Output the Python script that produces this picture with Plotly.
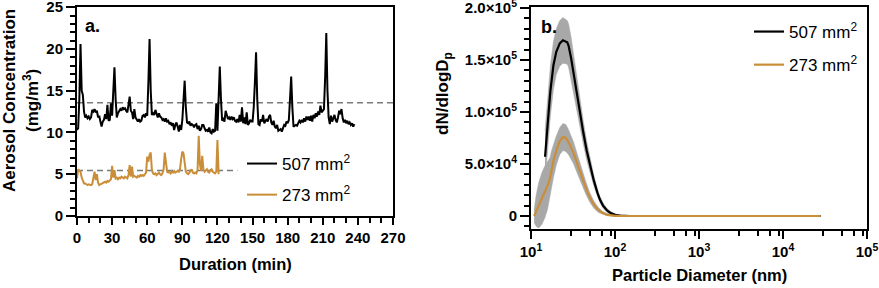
import plotly.graph_objects as go

# ---------------- Panel a data ----------------
black_t = list(range(0, 238))
black_v = [10.3, 10.5, 14.0, 20.6, 15.0, 14.5, 12.5, 11.8, 12.0, 11.7,
           11.9, 11.6, 11.8, 12.7, 12.5, 12.8, 12.4, 12.6, 11.8, 12.0,
           11.3, 10.7, 11.3, 11.5, 12.2, 11.6, 13.3, 11.4, 11.5, 13.5,
           12.0, 15.5, 17.8, 14.0, 11.8, 12.3, 12.6, 12.8, 12.6, 13.0,
           12.8, 12.9, 12.6, 12.4, 13.3, 14.3, 12.6, 12.4, 11.6, 12.8,
           11.8, 11.5, 11.3, 11.6, 11.3, 11.4, 12.0, 12.1, 11.8, 12.3,
           12.0, 16.0, 21.2, 15.0, 12.1, 12.3, 12.1, 12.7, 12.3, 11.8,
           12.3, 11.9, 11.8, 11.5, 11.6, 11.3, 11.7, 11.3, 11.4, 11.0,
           11.2, 10.8, 11.1, 10.3, 10.9, 11.2, 10.7, 10.1, 10.9, 10.3,
           11.5, 13.5, 16.2, 13.0, 11.2, 11.1, 11.3, 10.8, 11.0, 10.9,
           10.6, 10.9, 11.0, 10.4, 10.8, 10.2, 10.4, 10.9, 10.9, 10.5,
           10.2, 10.3, 10.1, 10.6, 10.0, 9.9, 10.4, 10.1, 10.2, 13.5,
           10.2, 14.0, 17.9, 14.0, 11.4, 11.6, 11.3, 12.6, 12.1, 11.6,
           11.8, 11.5, 11.9, 11.6, 11.8, 11.4, 11.3, 11.6, 11.2, 12.1,
           11.3, 13.0, 11.1, 11.8, 11.0, 12.4, 10.9, 11.1, 11.5, 11.3,
           11.3, 13.0, 16.0, 19.6, 14.0, 11.0, 10.9, 11.6, 11.3, 12.1,
           11.1, 11.4, 11.6, 11.3, 11.9, 12.1, 11.2, 10.9, 11.4, 10.7,
           10.5, 10.9, 10.2, 10.3, 10.4, 10.1, 10.6, 10.9, 10.8, 11.3,
           11.1, 11.5, 14.0, 16.7, 13.0, 10.7, 10.8, 10.9, 10.8, 11.1,
           11.4, 11.2, 11.5, 11.2, 11.7, 11.3, 11.9, 11.5, 11.9, 11.4,
           12.0, 11.3, 12.1, 11.7, 12.3, 11.9, 12.5, 12.1, 13.2, 12.4,
           12.6, 12.8, 16.5, 21.9, 15.0, 11.8, 11.0, 12.0, 11.3, 11.7,
           12.1, 11.5, 11.2, 11.8, 12.6, 12.2, 12.8, 11.7, 11.2, 11.5,
           11.1, 11.4, 11.0, 11.2, 10.9, 11.1, 10.7, 11.0]

orange_t = list(range(0, 122))
orange_v = [4.5, 5.6, 5.4, 5.3, 4.6, 4.1, 3.9, 3.9, 3.8, 3.7,
            3.8, 3.7, 3.7, 3.8, 4.5, 5.3, 4.3, 5.0, 4.0, 3.7,
            3.8, 3.9, 3.9, 4.0, 4.1, 4.0, 4.2, 4.1, 4.3, 4.4,
            6.0, 4.6, 5.5, 4.5, 4.6, 4.4, 4.6, 4.5, 4.7, 4.6,
            4.5, 4.7, 4.6, 4.5, 4.9, 6.1, 4.7, 5.9, 4.7, 4.8,
            4.7, 4.6, 4.8, 4.7, 4.9, 4.8, 4.9, 4.8, 5.0, 5.2,
            7.1, 6.5, 7.3, 7.6, 5.5, 5.1, 5.0, 5.1, 4.9, 5.0,
            5.2, 5.0, 4.9, 5.1, 5.6, 7.6, 6.5, 5.3, 5.2, 5.3,
            5.1, 5.3, 5.2, 5.4, 5.2, 5.3, 5.4, 5.3, 5.6, 6.8,
            7.7, 7.5, 6.2, 5.3, 5.1, 5.0, 5.2, 5.4, 5.6, 5.2,
            5.1, 5.2, 5.1, 5.5, 9.6, 6.2, 5.4, 7.2, 5.6, 5.3,
            5.4, 5.6, 5.3, 5.2, 5.5, 5.6, 5.3, 5.2, 5.1, 5.3,
            9.1, 5.0]

ref_black_x = [0, 270]
ref_black_y = [13.55, 13.55]
ref_orange_x = [0, 137]
ref_orange_y = [5.45, 5.45]

x_ticks_a = [0, 30, 60, 90, 120, 150, 180, 210, 240, 270]
y_ticks_a = [0, 5, 10, 15, 20, 25]

# ---------------- Panel b data ----------------
black_d = [14.7, 16, 17, 18.5, 20, 22, 24, 27, 28, 30, 32, 35, 38, 42, 46, 50,
           56, 62, 66, 72, 80, 90, 100, 115, 130, 150, 200, 300, 400, 500,
           600, 800, 1000, 2000, 5000, 10000, 20000, 28000]
black_n = [5.7e4, 9.5e4, 1.2e5, 1.45e5, 1.58e5, 1.66e5, 1.69e5, 1.67e5, 1.64e5,
           1.52e5, 1.38e5, 1.18e5, 1.0e5, 8.0e4, 6.3e4, 5.0e4, 3.4e4, 2.2e4,
           1.6e4, 1.0e4, 5.5e3, 2.5e3, 1.2e3, 400, 100, 0, 0, 0, 0, 0,
           0, 0, 0, 0, 0, 0, 0, 0]
black_err = [2.5e4, 2.5e4, 2.4e4, 2.3e4, 2.2e4, 2.2e4, 2.2e4, 2.1e4, 2.1e4,
             2.0e4, 1.8e4, 1.5e4, 1.3e4, 1.1e4, 9e3, 7e3, 5e3, 3.5e3,
             3e3, 2.5e3, 2e3, 1.5e3, 1e3, 500, 300, 200, 100, 100, 300, 300,
             300, 100, 100, 100, 100, 100, 100, 100]

orange_d = [10.9, 11.5, 12.4, 13.5, 14.6, 15.7, 16.8, 17.6, 18.5, 20, 22, 24,
            26, 28, 32, 36, 40, 45, 50, 56, 63, 70, 80, 90, 100, 120, 150,
            200, 300, 400, 500, 600, 800, 1000, 2000, 5000, 10000, 20000, 28000]
orange_n = [0, 5e3, 1.05e4, 1.7e4, 2.3e4, 2.9e4, 3.6e4, 4.5e4, 5.3e4, 6.3e4,
            7.2e4, 7.6e4, 7.5e4, 7.1e4, 6.1e4, 4.9e4, 3.8e4, 2.7e4, 1.8e4,
            1.1e4, 6e3, 3.2e3, 1.3e3, 500, 200, 50, 0,
            0, 0, 0, 0, 0, 0, 0, 0, 0, 0, 0, 0]
orange_err = [6e3, 1.5e4, 2.2e4, 2.5e4, 2.5e4, 2.3e4, 2.0e4, 1.8e4, 1.6e4,
              1.4e4, 1.3e4, 1.3e4, 1.3e4, 1.2e4, 1.05e4, 9e3, 7.5e3, 6e3,
              4.5e3, 3.5e3, 2.5e3, 1.5e3, 1e3, 600, 400, 200, 100,
              100, 100, 400, 500, 300, 100, 100, 100, 100, 100, 100, 100]

x_ticks_b = [10, 100, 1000, 10000, 100000]
x_ticktext_b = ["10<sup>1</sup>", "10<sup>2</sup>", "10<sup>3</sup>",
                "10<sup>4</sup>", "10<sup>5</sup>"]
x_minor_b = [m * 10 ** k for k in range(1, 5) for m in (3, 5, 7, 9)]
y_ticks_b = [0, 5e4, 1e5, 1.5e5, 2e5]
y_ticktext_b = ["0", "5.0×10<sup>4</sup>", "1.0×10<sup>5</sup>",
                "1.5×10<sup>5</sup>", "2.0×10<sup>5</sup>"]

series_names = ["507 mm<sup>2</sup>", "273 mm<sup>2</sup>"]

BLACK = "#000000"
ORANGE = "#CB8E38"
BAND = "rgb(168,168,168)"
DASH = "#7a7a7a"
FONT = "Liberation Sans"

W, H = 879, 288


def px(x):
    return x / W


def py(y):
    return 1 - y / H


def bold(labels):
    return ["<b>%s</b>" % s for s in labels]


fig = go.Figure()

# Panel a
fig.add_trace(go.Scatter(x=ref_black_x, y=ref_black_y, mode="lines",
                         line=dict(color=DASH, width=1.6, dash="6px,4px"),
                         showlegend=False, xaxis="x", yaxis="y", hoverinfo="skip"))
fig.add_trace(go.Scatter(x=ref_orange_x, y=ref_orange_y, mode="lines",
                         line=dict(color=DASH, width=1.6, dash="6px,4px"),
                         showlegend=False, xaxis="x", yaxis="y", hoverinfo="skip"))
fig.add_trace(go.Scatter(x=black_t, y=black_v, mode="lines", name=series_names[0],
                         line=dict(color=BLACK, width=2), legend="legend",
                         legendgroup="a1", xaxis="x", yaxis="y"))
fig.add_trace(go.Scatter(x=orange_t, y=orange_v, mode="lines", name=series_names[1],
                         line=dict(color=ORANGE, width=2), legend="legend",
                         legendgroup="a2", xaxis="x", yaxis="y"))

# Panel b bands
for d, n, e in [(black_d, black_n, black_err), (orange_d, orange_n, orange_err)]:
    upper = [a + b for a, b in zip(n, e)]
    lower = [a - b for a, b in zip(n, e)]
    fig.add_trace(go.Scatter(x=d + d[::-1], y=upper + lower[::-1], mode="lines",
                             fill="toself", fillcolor=BAND,
                             line=dict(color=BAND, width=0.5),
                             showlegend=False, xaxis="x2", yaxis="y2", hoverinfo="skip"))
fig.add_trace(go.Scatter(x=black_d, y=black_n, mode="lines", name=series_names[0],
                         line=dict(color=BLACK, width=2.2), legend="legend2",
                         legendgroup="b1", xaxis="x2", yaxis="y2"))
fig.add_trace(go.Scatter(x=orange_d, y=orange_n, mode="lines", name=series_names[1],
                         line=dict(color=ORANGE, width=2.2), legend="legend2",
                         legendgroup="b2", xaxis="x2", yaxis="y2"))

tickfont = dict(family=FONT, size=15, color="black")
common = dict(showline=True, linewidth=2, linecolor="black", mirror=True,
              ticks="outside", tickwidth=2, tickcolor="black", showgrid=False,
              zeroline=False, tickfont=tickfont, ticklabeloverflow="allow",
              automargin=False)

fig.update_layout(
    template="none",
    width=W, height=H,
    margin=dict(l=0, r=0, t=0, b=0, autoexpand=False),
    paper_bgcolor="white", plot_bgcolor="white",
    font=dict(family=FONT, color="black"),
    xaxis=dict(domain=[px(77), px(393)], range=[0, 270], tickvals=x_ticks_a,
               ticktext=bold([str(v) for v in x_ticks_a]),
               ticklen=7, anchor="y",
               minor=dict(dtick=10, tick0=0, ticklen=5, tickwidth=2,
                          ticks="outside", tickcolor="black"), **common),
    yaxis=dict(domain=[py(216), py(7)], range=[0, 25.02], tickvals=y_ticks_a,
               ticktext=bold([str(v) for v in y_ticks_a]),
               ticklen=9, anchor="x",
               minor=dict(dtick=1, tick0=0, ticklen=5, tickwidth=2,
                          ticks="outside", tickcolor="black"), **common),
    xaxis2=dict(domain=[px(531), px(867)], type="log", range=[1, 5],
                tickvals=x_ticks_b, ticktext=bold(x_ticktext_b), ticklen=8,
                anchor="y2",
                minor=dict(tickvals=x_minor_b, ticklen=5, tickwidth=2,
                           ticks="outside", tickcolor="black"), **common),
    yaxis2=dict(domain=[py(229), py(7)], range=[-12500, 201000],
                tickvals=y_ticks_b, ticktext=bold(y_ticktext_b), ticklen=9,
                anchor="x2",
                minor=dict(dtick=1e4, tick0=0, ticklen=5, tickwidth=2,
                           ticks="outside", tickcolor="black"), **common),
    legend=dict(x=px(242), y=py(146), xanchor="left", yanchor="top",
                bgcolor="rgba(0,0,0,0)", font=dict(family=FONT, size=17),
                tracegroupgap=6, itemwidth=30),
    legend2=dict(x=px(749), y=py(14), xanchor="left", yanchor="top",
                 bgcolor="rgba(0,0,0,0)", font=dict(family=FONT, size=17),
                 tracegroupgap=8, itemwidth=30),
    showlegend=True,
    annotations=[
        dict(text="<b>a.</b>", x=px(83), y=py(26), xref="paper", yref="paper",
             xanchor="left", yanchor="middle", showarrow=False,
             font=dict(family=FONT, size=18)),
        dict(text="<b>b.</b>", x=px(539), y=py(27), xref="paper", yref="paper",
             xanchor="left", yanchor="middle", showarrow=False,
             font=dict(family=FONT, size=18)),
        dict(text="<b>Duration (min)</b>", x=px(235), y=py(264), xref="paper",
             yref="paper", xanchor="center", yanchor="middle", showarrow=False,
             font=dict(family=FONT, size=16.5)),
        dict(text="<b>Particle Diameter (nm)</b>", x=px(699), y=py(275), xref="paper",
             yref="paper", xanchor="center", yanchor="middle", showarrow=False,
             font=dict(family=FONT, size=16.5)),
        dict(text="<b>Aerosol Concentration</b>", x=px(9), y=py(101), xref="paper",
             yref="paper", xanchor="center", yanchor="middle", showarrow=False,
             textangle=-90, font=dict(family=FONT, size=17)),
        dict(text="<b>(mg/m<sup>3</sup>)</b>", x=px(31), y=py(101), xref="paper",
             yref="paper", xanchor="center", yanchor="middle", showarrow=False,
             textangle=-90, font=dict(family=FONT, size=17)),
        dict(text="<b>dN/dlogD<sub>p</sub></b>", x=px(444), y=py(93), xref="paper",
             yref="paper", xanchor="center", yanchor="middle", showarrow=False,
             textangle=-90, font=dict(family=FONT, size=17)),
    ],
)

fig.write_html(
    "out.html",
    config={"displayModeBar": False},
    post_script="document.body.style.margin='0';"
                "document.body.style.overflow='hidden';",
)
